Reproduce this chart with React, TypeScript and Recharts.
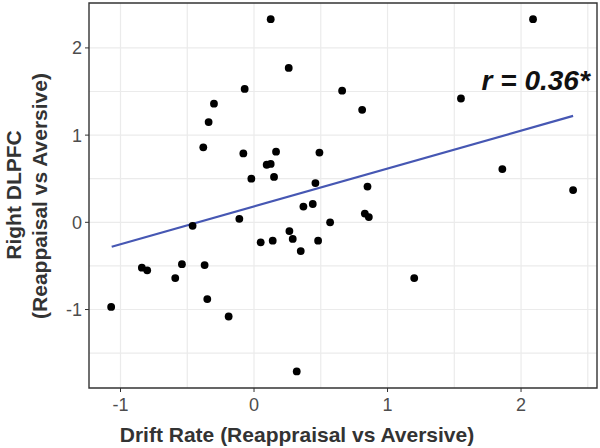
import {
  ScatterChart,
  Scatter,
  XAxis,
  YAxis,
  CartesianGrid,
  ReferenceArea,
  ReferenceLine,
  ReferenceDot,
} from 'recharts'

// Drift rate (x) and right DLPFC (y)
const driftRate = [
  -1.07, -0.84, -0.8, -0.59, -0.54, -0.46, -0.38, -0.37, -0.35, -0.34, -0.3,
  -0.19, -0.11, -0.08, -0.07, -0.02, 0.05, 0.095, 0.125, 0.125, 0.14, 0.15,
  0.165, 0.26, 0.265, 0.29, 0.32, 0.35, 0.37, 0.44, 0.46, 0.48, 0.49, 0.57,
  0.66, 0.81, 0.83, 0.85, 0.86, 1.2, 1.55, 1.86, 2.09, 2.39,
]
const dlpfc = [
  -0.97, -0.52, -0.55, -0.64, -0.48, -0.04, 0.86, -0.49, -0.88, 1.15, 1.36,
  -1.08, 0.04, 0.79, 1.53, 0.5, -0.23, 0.66, 0.67, 2.33, -0.21, 0.52, 0.81,
  1.77, -0.1, -0.19, -1.71, -0.33, 0.18, 0.21, 0.45, -0.21, 0.8, 0.0, 1.51,
  1.29, 0.1, 0.41, 0.06, -0.64, 1.42, 0.61, 2.33, 0.37,
]

// fitted line ends
const fitX = [-1.066, 2.39]
const fitY = [-0.28, 1.22]

const xTicks = [-1, 0, 1, 2]
const yTicks = [-1, 0, 1, 2]
const xGrid = [-1, -0.5, 0, 0.5, 1, 1.5, 2, 2.5]
const yGrid = [-1.5, -1, -0.5, 0, 0.5, 1, 1.5, 2]
const xDomain = [-1.236, 2.569]
const yDomain = [-1.9, 2.515]

const points = driftRate.map((x, i) => ({ x, y: dlpfc[i] }))

const font = '"Liberation Sans", Arial, Helvetica, sans-serif'
const tickStyle = { fill: '#4d4d4d', fontSize: 18, fontFamily: font }

export default function App() {
  return (
    <div style={{ position: 'absolute', left: 0, top: 0, background: '#fff' }}>
      <ScatterChart
        width={600}
        height={448}
        margin={{ top: 3, right: 3, bottom: 0, left: 0 }}
        style={{ fontFamily: font }}
      >
        <CartesianGrid
          stroke="#ebebeb"
          strokeWidth={1.2}
          horizontalValues={yGrid}
          verticalValues={xGrid}
        />
        <XAxis
          type="number"
          dataKey="x"
          domain={xDomain}
          ticks={xTicks}
          allowDataOverflow
          height={60}
          axisLine={false}
          tickSize={4}
          tickMargin={6}
          tickLine={{ stroke: '#333' }}
          tick={tickStyle}
          label={{
            content: () => (
              <text
                x={297}
                y={442}
                textAnchor="middle"
                fontSize={21}
                fontWeight="bold"
                fontFamily={font}
                fill="#333"
              >
                Drift Rate (Reappraisal vs Aversive)
              </text>
            ),
          }}
        />
        <YAxis
          type="number"
          dataKey="y"
          domain={yDomain}
          ticks={yTicks}
          allowDataOverflow
          width={89}
          axisLine={false}
          tickSize={4}
          tickMargin={3}
          tickLine={{ stroke: '#333' }}
          tick={tickStyle}
          label={{
            content: () => (
              <g fontSize={21} fontWeight="bold" fontFamily={font} fill="#333">
                <text
                  x={13.5}
                  y={195}
                  textAnchor="middle"
                  dominantBaseline="central"
                  transform="rotate(-90 13.5 195)"
                >
                  Right DLPFC
                </text>
                <text
                  x={39}
                  y={196}
                  textAnchor="middle"
                  dominantBaseline="central"
                  transform="rotate(-90 39 196)"
                >
                  (Reappaisal vs Aversive)
                </text>
              </g>
            ),
          }}
        />
        <ReferenceArea
          x1={xDomain[0]}
          x2={xDomain[1]}
          y1={yDomain[0]}
          y2={yDomain[1]}
          fill="none"
          stroke="#333"
          strokeWidth={1.4}
        />
        <ReferenceLine
          segment={[
            { x: fitX[0], y: fitY[0] },
            { x: fitX[1], y: fitY[1] },
          ]}
          stroke="#4657b3"
          strokeWidth={2.2}
        />
        <Scatter
          data={points}
          isAnimationActive={false}
          shape={(p: any) => <circle cx={p.cx} cy={p.cy} r={3.9} fill="#000" />}
        />
        <ReferenceDot
          x={2.11}
          y={1.63}
          r={0}
          fill="none"
          stroke="none"
          label={{
            value: 'r = 0.36*',
            position: 'center',
            fontSize: 28,
            fontWeight: 'bold',
            fontStyle: 'italic',
            fontFamily: font,
            fill: '#111',
          }}
        />
      </ScatterChart>
    </div>
  )
}
